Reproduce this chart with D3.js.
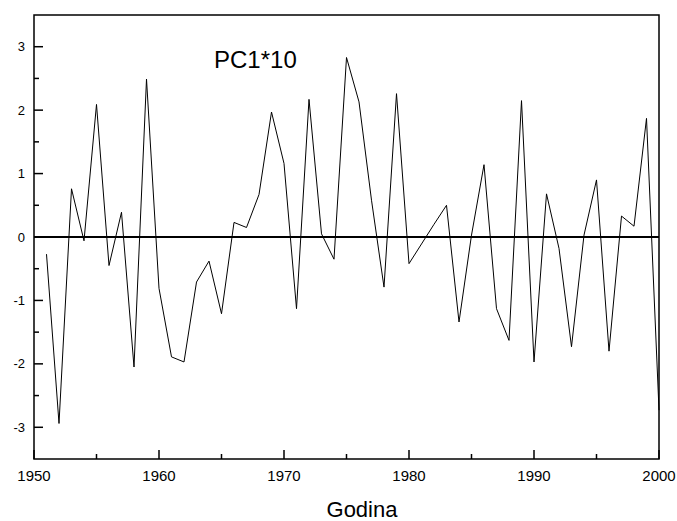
<!DOCTYPE html>
<html>
<head>
<meta charset="utf-8">
<script src="https://cdn.jsdelivr.net/npm/d3@7"></script>
<style>
  html, body { margin: 0; padding: 0; background: #fff; }
  svg { display: block; font-family: Arial, "Liberation Sans", sans-serif; }
</style>
</head>
<body>
<svg id="chart" width="677" height="521"></svg>
<script>
const years = d3.range(1951, 2001);
const values = [
  -0.27, -2.94, 0.76, -0.06, 2.09, -0.45, 0.39, -2.05, 2.49, -0.81,
  -1.89, -1.97, -0.71, -0.38, -1.21, 0.23, 0.15, 0.67, 1.97, 1.16,
  -1.13, 2.17, 0.05, -0.35, 2.83, 2.13, 0.58, -0.79, 2.26, -0.42,
  -0.11, 0.20, 0.50, -1.34, 0.03, 1.14, -1.13, -1.63, 2.15, -1.97,
  0.68, -0.18, -1.73, 0.03, 0.90, -1.80, 0.33, 0.17, 1.87, -2.73
];
const xMajorTicks = [1950, 1960, 1970, 1980, 1990, 2000];
const xMinorTicks = [1955, 1965, 1975, 1985, 1995];
const yMajorTicks = [-3, -2, -1, 0, 1, 2, 3];
const yMinorTicks = [-2.5, -1.5, -0.5, 0.5, 1.5, 2.5];
const seriesLabel = "PC1*10";
const xTitle = "Godina";

const svg = d3.select("#chart");
const mLeft = 34, mRight = 659, mTop = 15, mBottom = 459;

const x = d3.scaleLinear().domain([1950, 2000]).range([mLeft, mRight]);
const y = d3.scaleLinear().domain([-3.5, 3.5]).range([mBottom, mTop]);

const data = years.map((yr, i) => ({ yr, v: values[i] }));

// zero line
svg.append("line")
  .attr("x1", mLeft).attr("x2", mRight)
  .attr("y1", y(0)).attr("y2", y(0))
  .attr("stroke", "#000").attr("stroke-width", 2);

// data line
svg.append("path")
  .datum(data)
  .attr("fill", "none")
  .attr("stroke", "#000")
  .attr("stroke-width", 1)
  .attr("d", d3.line().x(d => x(d.yr)).y(d => y(d.v)));

// ticks (inward)
const tg = svg.append("g").attr("stroke", "#000").attr("stroke-width", 1.5);
tg.selectAll(".xmaj").data(xMajorTicks).enter().append("line")
  .attr("x1", d => x(d)).attr("x2", d => x(d))
  .attr("y1", mBottom).attr("y2", mBottom - 9);
tg.selectAll(".xmin").data(xMinorTicks).enter().append("line")
  .attr("x1", d => x(d)).attr("x2", d => x(d))
  .attr("y1", mBottom).attr("y2", mBottom - 5);
tg.selectAll(".ymaj").data(yMajorTicks).enter().append("line")
  .attr("y1", d => y(d)).attr("y2", d => y(d))
  .attr("x1", mLeft).attr("x2", mLeft + 9);
tg.selectAll(".ymin").data(yMinorTicks).enter().append("line")
  .attr("y1", d => y(d)).attr("y2", d => y(d))
  .attr("x1", mLeft).attr("x2", mLeft + 5);

// frame
svg.append("rect")
  .attr("x", mLeft).attr("y", mTop)
  .attr("width", mRight - mLeft).attr("height", mBottom - mTop)
  .attr("fill", "none").attr("stroke", "#000").attr("stroke-width", 1.5);

// tick labels
svg.selectAll(".xl").data(xMajorTicks).enter().append("text")
  .attr("x", d => x(d)).attr("y", 481)
  .attr("text-anchor", "middle")
  .attr("font-size", 15)
  .text(d => d);
svg.selectAll(".yl").data(yMajorTicks).enter().append("text")
  .attr("x", 25).attr("y", d => y(d))
  .attr("dy", "0.35em")
  .attr("text-anchor", "end")
  .attr("font-size", 13)
  .text(d => d);

// labels
svg.append("text")
  .attr("x", 214).attr("y", 68)
  .attr("font-size", 24)
  .text(seriesLabel);
svg.append("text")
  .attr("x", 362).attr("y", 517)
  .attr("text-anchor", "middle")
  .attr("font-size", 22)
  .text(xTitle);
</script>
</body>
</html>
